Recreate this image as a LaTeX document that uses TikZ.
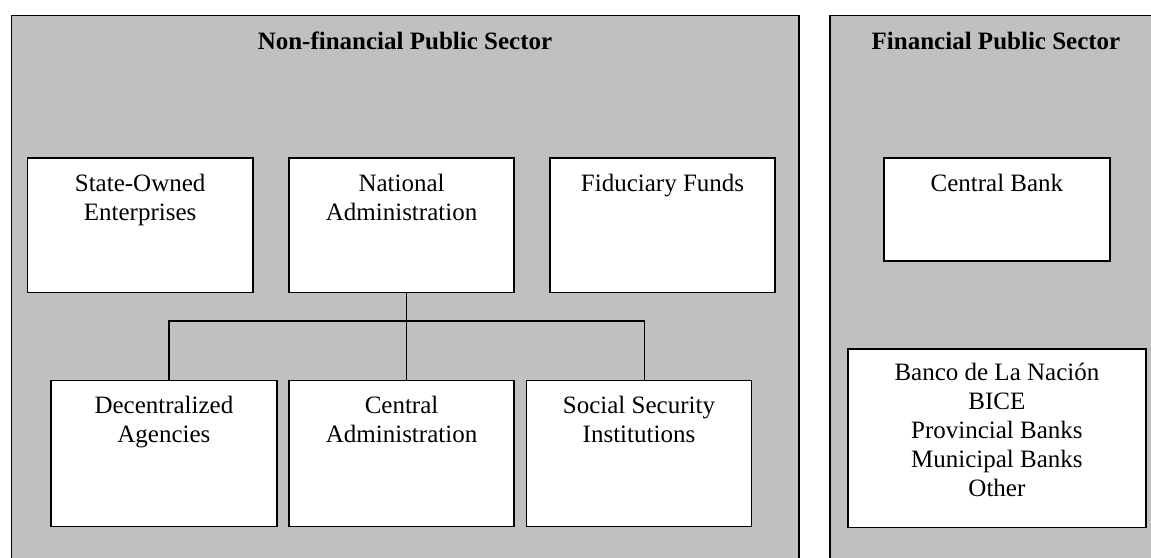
\documentclass[tikz,border=0pt]{standalone}
\usepackage{fontspec}
\setmainfont{Liberation Serif}
\begin{document}
\begin{tikzpicture}[x=1pt,y=-1pt,
  panel/.style={draw=black,fill=panelgray,line width=1.5pt},
  box/.style={draw=black,fill=white,line width=1.5pt,inner sep=0pt,anchor=north west,rectangle},
  lbl/.style={anchor=base,align=center,inner sep=0pt,font=\fontsize{25}{29}\selectfont},
  ttl/.style={anchor=base,inner sep=0pt,font=\fontsize{25}{29}\selectfont\bfseries},
  conn/.style={draw=black,line width=1.5pt}]
\definecolor{panelgray}{RGB}{192,192,192}
\useasboundingbox (0,0) rectangle (1151,557);
\fill[white] (0,0) rectangle (1151,557);
\begin{scope}
\clip (0,0) rectangle (1151,557);
\draw[panel] (11.5,15.5) rectangle (799,590);
\draw[panel] (830,15.5) rectangle (1175,590);
\end{scope}
\node[ttl] (t1) at (405,49) {Non-financial Public Sector};
\node[ttl] (t2) at (996,49) {Financial Public Sector};
% row 1
\node[box,minimum width=225.8pt,minimum height=134.4pt] (soe) at (26.5,157.3) {};
\node[box,minimum width=225pt,minimum height=134.4pt] (nat) at (288.3,157.3) {};
\node[box,minimum width=225pt,minimum height=134.4pt] (fid) at (549.3,157.3) {};
% row 2
\node[box,minimum width=225.7pt,minimum height=146pt] (dec) at (50.3,379.5) {};
\node[box,minimum width=225pt,minimum height=146pt] (cen) at (288.3,379.5) {};
\node[box,minimum width=225pt,minimum height=146pt] (soc) at (525.7,379.5) {};
% financial
\node[box,minimum width=225.7pt,minimum height=103pt] (cb) at (883.3,157.3) {};
\node[box,minimum width=297.7pt,minimum height=178.4pt] (bn) at (847.3,348.3) {};
% labels (base anchor = last line baseline)
\node[lbl] (lsoe) at ([yshift=-62.8pt]soe.north) {State-Owned\\Enterprises};
\node[lbl] (lnat) at ([yshift=-62.8pt]nat.north) {National\\Administration};
\node[lbl] (lfid) at ([yshift=-33.8pt]fid.north) {Fiduciary Funds};
\node[lbl] (ldec) at ([yshift=-62.5pt]dec.north) {Decentralized\\Agencies};
\node[lbl] (lcen) at ([yshift=-62.5pt]cen.north) {Central\\Administration};
\node[lbl] (lsoc) at ([yshift=-62.5pt]soc.north) {Social Security\\Institutions};
\node[lbl] (lcb) at ([yshift=-34.4pt]cb.north) {Central Bank};
\node[lbl] (lbn) at ([yshift=-148.4pt]bn.north) {Banco de La Nación\\BICE\\Provincial Banks\\Municipal Banks\\Other};
% connectors
\coordinate (bm) at (406.7,321);
\coordinate (bl) at (169,321);
\coordinate (br) at (644.3,321);
\draw[conn] (nat.south -| bm) -- (cen.north -| bm);
\draw[conn] (dec.north -| bl) -- (bl) -- (br) -- (soc.north -| br);
\end{tikzpicture}
\end{document}
